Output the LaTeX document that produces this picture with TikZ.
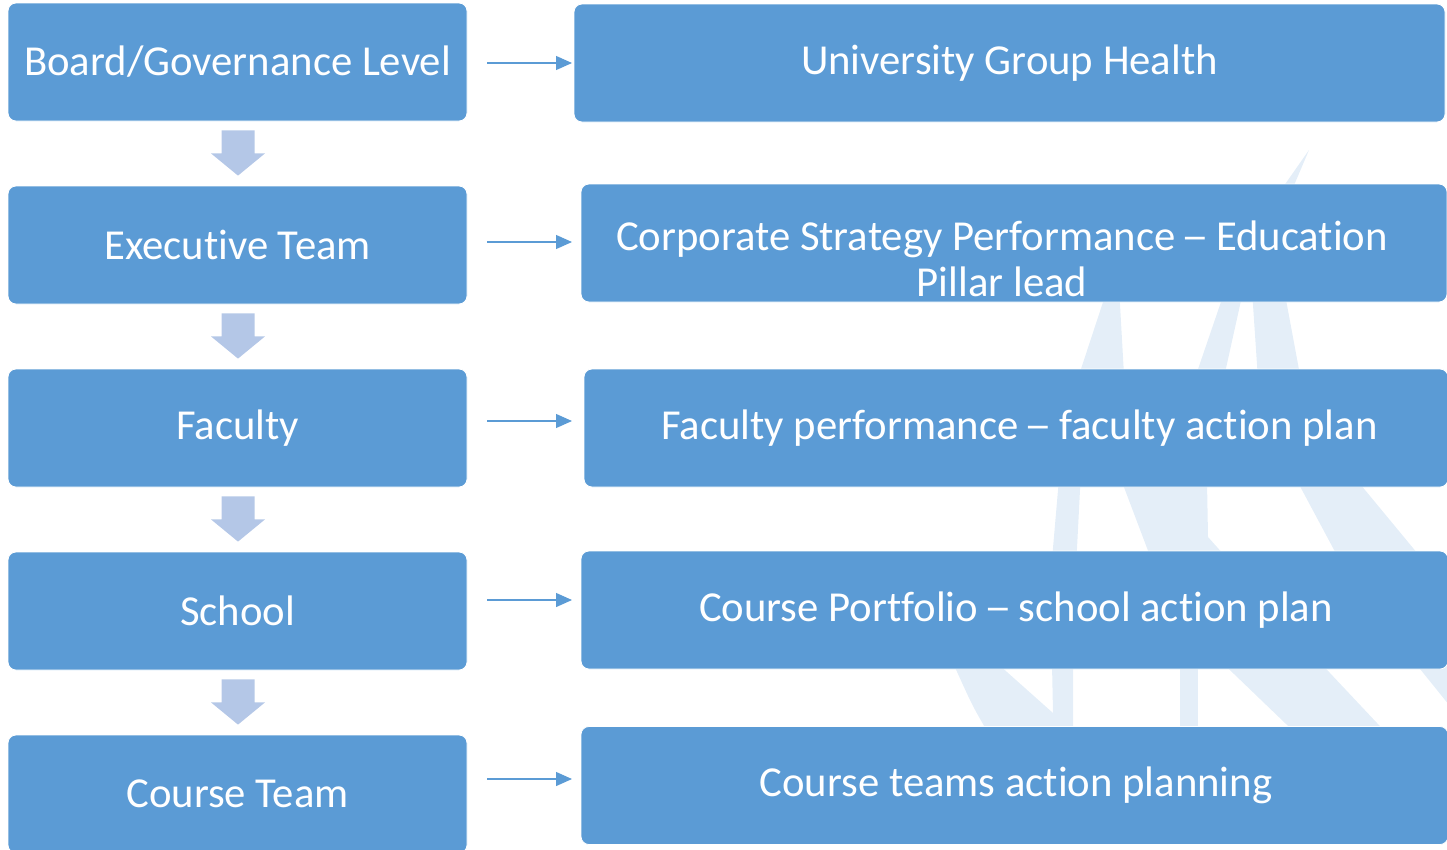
\documentclass[tikz,border=0pt]{standalone}
\usepackage{fontspec}
\usepackage{graphicx}
\setmainfont{Carlito}[Ligatures={TeX,NoCommon}]
\usetikzlibrary{arrows.meta,calc}
\definecolor{boxblue}{HTML}{5B9BD5}
\definecolor{downblue}{HTML}{B4C7E7}
\definecolor{wmark}{HTML}{E4EEF8}
\newcommand{\wdash}{\makebox[0.5em]{\scalebox{1.3}[1]{–}}}
\begin{document}
\begin{tikzpicture}[x=1pt,y=-1pt,
  lbox/.style={fill=boxblue, draw=white, line width=0.8pt, rounded corners=8pt,
    minimum width=459pt, minimum height=118pt, inner sep=0pt, text=white,
    font=\fontsize{42.7}{46}\selectfont},
  rbox/.style={fill=boxblue, draw=white, line width=0.8pt, rounded corners=8pt,
    minimum height=118pt, inner sep=0pt},
  rtxt/.style={text=white, font=\fontsize{42.7}{46}\selectfont, align=center, inner sep=0pt},
  link/.style={draw=boxblue, line width=1.2pt, -{Triangle[length=16pt,width=14pt]}},
  downarrow/.style={fill=downblue},
  wm/.style={fill=wmark}
]
\useasboundingbox (0,0) rectangle (1447,849);
\clip (0,0) rectangle (1447,849);

% faint watermark
\fill[wm] (1309,150) -- (1292,190) -- (1281,190) -- cycle;
\fill[wm] (1105,296) -- (1119.5,296) -- (1124,375) -- (1079,375) -- cycle;
\fill[wm] (1223,296) -- (1242,296) -- (1224.5,375) -- (1196,375) -- cycle;
\fill[wm] (1252.4,296) -- (1285.3,296) -- (1300,375) -- (1257.7,375) -- cycle;
\fill[wm] (1058.7,482) -- (1080.4,482) -- (1076.6,556) -- (1052.3,556) -- cycle;
\fill[wm] (1122,482) -- (1207,482) -- (1208,537) -- (1225,556) -- (1150,556) -- cycle;
\fill[wm] (1297.7,482) -- (1358.4,482) -- (1419.6,556) -- (1337.3,556) -- cycle;
\fill[wm] (953.5,664) -- (998,664) -- (1053,713) -- (1052,664) -- (1073,664) -- (1073,731) -- (987,731) .. controls (972,705) .. cycle;
\fill[wm] (1180,664) -- (1198,664) -- (1198,731) -- (1180,731) -- cycle;
\fill[wm] (1223.6,664) -- (1321.5,664) -- (1384.5,731) -- (1293.3,731) -- cycle;
\fill[wm] (1416,664) -- (1470,664) -- (1470,731) -- cycle;

% left column
\node[lbox] (l1) at (237.5,62)  {Board/Governance Level};
\node[lbox] (l2) at (237.5,245) {Executive Team};
\node[lbox] (l3) at (237.5,428) {Faculty};
\node[lbox] (l4) at (237.5,611) {School};
\node[lbox] (l5) at (237.5,794) {Course Team};

% right column
\node[rbox, minimum width=871pt] (r1) at (1009.5,63) {};
\node[rbox, minimum width=866pt] (r2) at (1014,243) {};
\node[rbox, minimum width=864pt] (r3) at (1016,428) {};
\node[rbox, minimum width=867pt] (r4) at (1014.5,610) {};
\node[rbox, minimum width=867pt] (r5) at (1014.5,785.5) {};
\node[rtxt] (t1) at (1009.5,63) {University Group Health};
\node[rtxt] (t2) at (1002,259) {Corporate Strategy Performance \wdash{} Education\\Pillar lead};
\node[rtxt] (t3) at (1019.5,428) {Faculty performance \wdash{} faculty action plan};
\node[rtxt] (t4) at (1016,610) {Course Portfolio \wdash{} school action plan};
\node[rtxt] (t5) at (1016,785.5) {Course teams action planning};

% down block arrows
\foreach \a/\b in {l1/l2,l2/l3,l3/l4,l4/l5}{
  \path ($(\a.south)+(0.5,9)$) coordinate (tt) ($(\b.north)+(0.5,-10)$) coordinate (pp);
  \fill[downarrow] ($(tt)+(-16.5,0)$) -- ($(tt)+(16.5,0)$) -- ($(tt)+(16.5,23)$)
    -- ($(tt)+(27,23)$) -- (pp) -- ($(tt)+(-27,23)$) -- ($(tt)+(-16.5,23)$) -- cycle;
}

% horizontal connectors
\coordinate (s1) at (487,63);  \coordinate (e1) at (572,63);
\coordinate (s2) at (487,242); \coordinate (e2) at (572,242);
\coordinate (s3) at (487,421); \coordinate (e3) at (572,421);
\coordinate (s4) at (487,600); \coordinate (e4) at (572,600);
\coordinate (s5) at (487,779); \coordinate (e5) at (572,779);
\foreach \i in {1,...,5}{ \draw[link] (s\i) -- (e\i); }
\end{tikzpicture}
\end{document}
